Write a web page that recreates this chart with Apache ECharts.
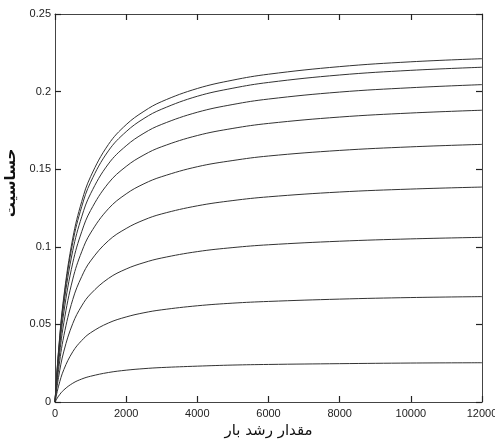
<!DOCTYPE html>
<html>
<head>
<meta charset="utf-8">
<script src="https://cdn.jsdelivr.net/npm/echarts@6/dist/echarts.min.js"></script>
<style>
  html, body { margin: 0; padding: 0; background: #fff; }
  #chart { width: 495px; height: 441px; }
</style>
</head>
<body>
<div id="chart"></div>
<script>
// load growth (x) values
const loadGrowth = [0, 100, 250, 500, 750, 1000, 1500, 2000, 2500, 3000, 4000, 5000, 6000, 8000, 10000, 12000]

// sensitivity curves, top to bottom
const curve1 = [0, 0.0332, 0.0683, 0.1056, 0.1291, 0.1452, 0.1659, 0.1787, 0.1873, 0.1936, 0.2020, 0.2074, 0.2112, 0.2161, 0.2192, 0.2212]
const curve2 = [0, 0.0324, 0.0666, 0.1029, 0.1258, 0.1416, 0.1618, 0.1742, 0.1827, 0.1887, 0.1970, 0.2022, 0.2059, 0.2107, 0.2137, 0.2157]
const curve3 = [0, 0.0307, 0.0631, 0.0976, 0.1193, 0.1342, 0.1534, 0.1651, 0.1732, 0.1789, 0.1867, 0.1917, 0.1952, 0.1997, 0.2025, 0.2045]
const curve4 = [0, 0.0282, 0.0581, 0.0897, 0.1097, 0.1234, 0.1410, 0.1518, 0.1592, 0.1645, 0.1717, 0.1763, 0.1795, 0.1836, 0.1862, 0.1880]
const curve5 = [0, 0.0249, 0.0513, 0.0792, 0.0968, 0.1089, 0.1245, 0.1341, 0.1406, 0.1452, 0.1516, 0.1556, 0.1585, 0.1621, 0.1644, 0.1660]
const curve6 = [0, 0.0208, 0.0428, 0.0661, 0.0808, 0.0909, 0.1039, 0.1118, 0.1173, 0.1212, 0.1264, 0.1298, 0.1322, 0.1353, 0.1372, 0.1385]
const curve7 = [0, 0.0159, 0.0328, 0.0506, 0.0619, 0.0696, 0.0796, 0.0857, 0.0898, 0.0928, 0.0969, 0.0995, 0.1013, 0.1036, 0.1051, 0.1061]
const curve8 = [0, 0.0102, 0.0210, 0.0324, 0.0396, 0.0446, 0.0509, 0.0548, 0.0575, 0.0594, 0.0620, 0.0637, 0.0648, 0.0663, 0.0673, 0.0679]
const curve9 = [0, 0.0038, 0.0078, 0.0121, 0.0148, 0.0166, 0.0190, 0.0205, 0.0215, 0.0222, 0.0231, 0.0238, 0.0242, 0.0247, 0.0251, 0.0253]

const curves = [curve1, curve2, curve3, curve4, curve5, curve6, curve7, curve8, curve9]

const xTitle = 'مقدار رشد بار'
const yTitle = 'حساسیت'

const axisColor = '#444'
const labelFont = { color: '#222', fontSize: 11, fontFamily: 'Liberation Sans' }

const chart = echarts.init(document.getElementById('chart'))

// inner-tick axis, reused for the four frame sides
const frameAxis = (extra) => Object.assign({
  type: 'value',
  axisLine: { show: true, onZero: false, lineStyle: { color: axisColor, width: 1 } },
  axisTick: { show: true, inside: true, length: 6, lineStyle: { color: '#222', width: 1.2 } },
  splitLine: { show: false }
}, extra)

const lineSeries = curves.map(values => ({
  type: 'line',
  smooth: 0.4,
  symbol: 'none',
  lineStyle: { color: '#333', width: 1 },
  data: loadGrowth.map((x, i) => [x, values[i]])
}))

// same first curve on the top/right axes (invisible) so they are laid out
lineSeries.push({
  type: 'line', xAxisIndex: 1, yAxisIndex: 1, symbol: 'none',
  lineStyle: { opacity: 0 }, silent: true,
  data: loadGrowth.map((x, i) => [x, curve1[i]])
})

chart.setOption({
  animation: false,
  grid: {
    left: 55, right: 13, top: 14, bottom: 39,
    outerBoundsMode: 'none',
    containLabel: false
  },
  xAxis: [
    frameAxis({
      min: 0, max: 12000, interval: 2000,
      position: 'bottom',
      name: xTitle,
      nameLocation: 'middle',
      nameGap: 20,
      nameTextStyle: { color: '#111', fontSize: 15, fontFamily: 'DejaVu Sans' },
      axisLabel: Object.assign({ margin: 6, formatter: v => String(v) }, labelFont)
    }),
    frameAxis({
      min: 0, max: 12000, interval: 2000,
      position: 'top',
      axisLabel: { show: false }
    })
  ],
  yAxis: [
    frameAxis({
      min: 0, max: 0.25, interval: 0.05,
      position: 'left',
      name: yTitle,
      nameLocation: 'middle',
      nameGap: 33,
      nameTextStyle: { color: '#111', fontSize: 15, fontWeight: 'bold', fontFamily: 'DejaVu Sans', padding: [0, 0, 0, 50] },
      axisLabel: Object.assign({ margin: 4, formatter: v => String(+v.toFixed(2)) }, labelFont)
    }),
    frameAxis({
      min: 0, max: 0.25, interval: 0.05,
      position: 'right',
      axisLabel: { show: false }
    })
  ],
  series: lineSeries
})
</script>
</body>
</html>
